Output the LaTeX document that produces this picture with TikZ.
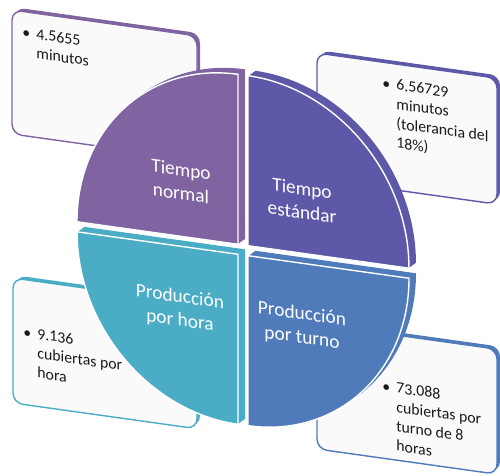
\documentclass[tikz,border=0pt]{standalone}
\usepackage{fontspec}
\setmainfont{Carlito}
\usepackage{tikz}
\definecolor{NormalPurple}{HTML}{8064A2}
\definecolor{StandardIndigo}{HTML}{5D59A8}
\definecolor{HourAqua}{HTML}{4BACC6}
\definecolor{ShiftBlue}{HTML}{4F7BBA}
\definecolor{NoteFill}{HTML}{FAFAFA}
\definecolor{NoteText}{HTML}{1A1A1A}
\newcommand\notelines[1]{\begin{tabular}{@{}l@{\hspace{3.5pt}}l@{}}\textbullet & #1\end{tabular}}

\begin{document}
\begin{tikzpicture}[
    x=0.02cm, y=-0.02cm,
    every node/.style={
        font=\fontsize{11}{13.5}\selectfont,
        text=white,
        align=center,
        transform shape
    },
    notebox/.style={fill=NoteFill, draw=#1, line width=0.8pt, rounded corners=0.2cm},
    notedepth/.style={fill=#1, rounded corners=0.2cm},
    notetext/.style={anchor=north west, inner sep=0pt, align=left, text=NoteText,
        font=\fontsize{9}{11}\selectfont},
    face/.style={fill=#1, draw=white, line width=0.8pt}
]
\useasboundingbox (0,0) rectangle (500,476);

% note boxes behind the wheel
\begin{scope}[shift={(12,10)}, yslant=-0.14]
  \fill[notedepth=NormalPurple] (3,-3) rectangle (188,121);
  \draw[notebox=NormalPurple] (0,0) rectangle (185,124);
  \node[notetext] (normalnote) at (10,12) {\notelines{4.5655\\ & minutos}};
\end{scope}
\begin{scope}[shift={(317,53)}, yslant=-0.14]
  \fill[notedepth=StandardIndigo] (3,-3) rectangle (183,123);
  \draw[notebox=StandardIndigo] (0,0) rectangle (180,126);
  \node[notetext] (standardnote) at (65,12) {\notelines{6.56729\\ & minutos\\ & (tolerancia del\\ & 18\%)}};
\end{scope}
\begin{scope}[shift={(13,278)}, yslant=-0.14]
  \fill[notedepth=HourAqua] (3,-3) rectangle (187,122);
  \draw[notebox=HourAqua] (0,0) rectangle (184,125);
  \node[notetext] (hournote) at (10,44) {\notelines{9.136\\ & cubiertas por\\ & hora}};
\end{scope}
\begin{scope}[shift={(317,324)}, yslant=-0.14]
  \fill[notedepth=ShiftBlue] (3,-3) rectangle (183,122);
  \draw[notebox=ShiftBlue] (0,0) rectangle (180,125);
  \node[notetext] (shiftnote) at (65,44) {\notelines{73.088\\ & cubiertas por\\ & turno de 8\\ & horas}};
\end{scope}

% the wheel
\begin{scope}[shift={(243,250)}, yslant=-0.14]
  \foreach \d in {1,...,7}
    \fill[NormalPurple, shift={(\d,-0.85*\d)}] (-5,-5) -- (-166,-5)
      arc[start angle=180, end angle=90, x radius=3.22cm, y radius=3.4cm] -- cycle;
  \filldraw[face=NormalPurple] (-5,-5) -- (-166,-5)
      arc[start angle=180, end angle=90, x radius=3.22cm, y radius=3.4cm] -- cycle;

  \foreach \d in {1,...,7}
    \fill[StandardIndigo, shift={(\d,-0.85*\d)}] (5,-5) -- (5,-175)
      arc[start angle=90, end angle=0, x radius=3.22cm, y radius=3.4cm] -- cycle;
  \filldraw[face=StandardIndigo] (5,-5) -- (5,-175)
      arc[start angle=90, end angle=0, x radius=3.22cm, y radius=3.4cm] -- cycle;

  \foreach \d in {1,...,7}
    \fill[HourAqua, shift={(\d,-0.85*\d)}] (-5,5) -- (-5,175)
      arc[start angle=-90, end angle=-180, x radius=3.22cm, y radius=3.4cm] -- cycle;
  \filldraw[face=HourAqua] (-5,5) -- (-5,175)
      arc[start angle=-90, end angle=-180, x radius=3.22cm, y radius=3.4cm] -- cycle;

  \foreach \d in {1,...,7}
    \fill[ShiftBlue, shift={(\d,-0.85*\d)}] (5,5) -- (166,5)
      arc[start angle=0, end angle=-90, x radius=3.22cm, y radius=3.4cm] -- cycle;
  \filldraw[face=ShiftBlue] (5,5) -- (166,5)
      arc[start angle=0, end angle=-90, x radius=3.22cm, y radius=3.4cm] -- cycle;

  \node (normal) at (-62,-60) {Tiempo\\normal};
  \node (standard) at (59,-58) {Tiempo\\estándar};
  \node (hour) at (-63,68) {Producción\\por hora};
  \node (shift) at (59,68) {Producción\\por turno};
\end{scope}

\end{tikzpicture}
\end{document}
